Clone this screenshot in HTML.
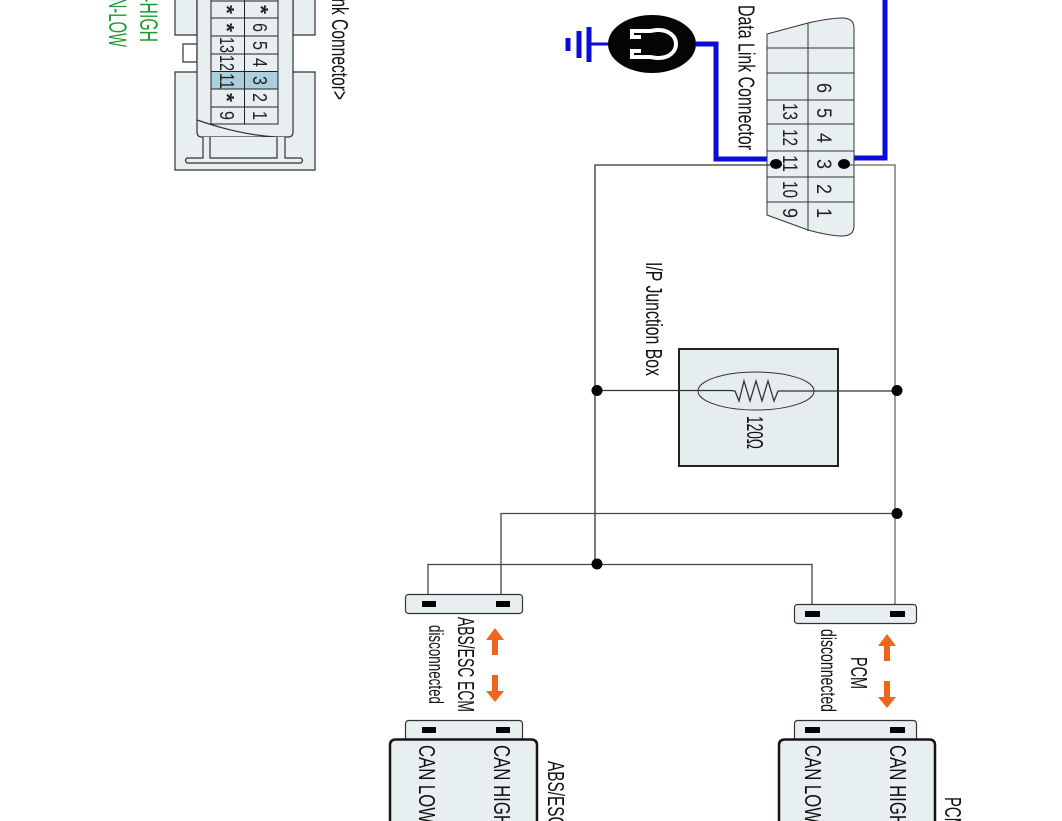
<!DOCTYPE html>
<html><head><meta charset="utf-8"><style>
html,body{margin:0;padding:0;background:#fff;width:1062px;height:821px;overflow:hidden}
svg{display:block}
text{font-family:"Liberation Sans",sans-serif;fill:#111;font-size:23px}
.d{font-size:21px;fill:#222}
.s{font-size:20px;fill:#222}
</style></head><body>
<svg width="1062" height="821" viewBox="0 0 1062 821" xmlns="http://www.w3.org/2000/svg">
<!-- left connector -->
<g stroke="#333" stroke-width="1.2" fill="#e8eff0">
<path d="M175,-2H197V35H175ZM293,-2H315V35H293Z"/>
<path d="M175,72H315V170H175Z"/>
<path d="M197,44H183V62H197Z" fill="#fff"/>
<path d="M197,-2H293V132Q293,137 288,137H202Q197,137 197,132Z"/>
<path d="M197,120Q240,135 277,137" fill="none"/>
<path d="M203,137V158H187Q184,160 187,163H301Q304,160 301,158H285V137M210,137V158H277V137" fill="#e8eff0"/>
</g>
<rect x="211" y="71.5" width="67" height="17.5" fill="#a9d0dc"/>
<g stroke="#222" stroke-width="1" fill="none">
<rect x="211" y="-2" width="67" height="126"/>
<path d="M244.500,-2V124M211,1H278M211,18H278M211,36H278M211,54H278M211,71.500H278M211,89H278M211,107H278"/>
</g>
<text class="s" transform="translate(220,5) rotate(90)" textLength="9" lengthAdjust="spacingAndGlyphs" font-weight="bold">*</text>
<text class="s" transform="translate(254,5) rotate(90)" textLength="9" lengthAdjust="spacingAndGlyphs" font-weight="bold">*</text>
<text class="s" transform="translate(220,23) rotate(90)" textLength="9" lengthAdjust="spacingAndGlyphs" font-weight="bold">*</text>
<text class="s" transform="translate(253,23) rotate(90)" textLength="9" lengthAdjust="spacingAndGlyphs">6</text>
<text class="s" transform="translate(220,37) rotate(90)" textLength="16" lengthAdjust="spacingAndGlyphs">13</text>
<text class="s" transform="translate(253,41) rotate(90)" textLength="9" lengthAdjust="spacingAndGlyphs">5</text>
<text class="s" transform="translate(220,55) rotate(90)" textLength="16" lengthAdjust="spacingAndGlyphs">12</text>
<text class="s" transform="translate(253,58) rotate(90)" textLength="9" lengthAdjust="spacingAndGlyphs">4</text>
<text class="s" transform="translate(220,73) rotate(90)" textLength="16" lengthAdjust="spacingAndGlyphs">11</text>
<text class="s" transform="translate(253,76) rotate(90)" textLength="9" lengthAdjust="spacingAndGlyphs">3</text>
<text class="s" transform="translate(220,93) rotate(90)" textLength="9" lengthAdjust="spacingAndGlyphs" font-weight="bold">*</text>
<text class="s" transform="translate(253,93) rotate(90)" textLength="9" lengthAdjust="spacingAndGlyphs">2</text>
<text class="s" transform="translate(220,111) rotate(90)" textLength="9" lengthAdjust="spacingAndGlyphs">9</text>
<text class="s" transform="translate(253,111) rotate(90)" textLength="9" lengthAdjust="spacingAndGlyphs">1</text>
<text transform="translate(332,100) rotate(90)" text-anchor="end" textLength="160" lengthAdjust="spacingAndGlyphs">&lt;Data Link Connector&gt;</text>
<text transform="translate(140,42) rotate(90)" text-anchor="end" textLength="78" lengthAdjust="spacingAndGlyphs" style="fill:#1f9a30;font-size:25px">CAN-HIGH</text>
<text transform="translate(109,47) rotate(90)" text-anchor="end" textLength="70" lengthAdjust="spacingAndGlyphs" style="fill:#1f9a30;font-size:25px">CAN-LOW</text>

<!-- ground + meter -->
<g stroke="#0b0bdc" fill="none">
<path d="M589,44H610" stroke-width="3"/>
<path d="M589,27V62" stroke-width="5"/>
<path d="M579,31V58" stroke-width="5"/>
<path d="M568,38V51" stroke-width="5"/>
<path d="M696,44H716V159H776" stroke-width="5"/>
<path d="M885,-2V158H838" stroke-width="5"/>
</g>
<ellipse cx="652" cy="44" rx="44" ry="29" fill="#050505"/>
<path d="M641,37H632V31H650C652,31 654,30 658,30C670,30 676,37 676,44C676,51 670,58 658,58C654,58 652,57 650,57H632V51H641" fill="none" stroke="#fff" stroke-width="4"/>

<!-- data link connector -->
<path d="M767,34L808,23Q830,18 842,18Q854,18 854,28V226Q854,236 842,236Q830,236 808,230L767,215Z" fill="#e8eff0" stroke="#333" stroke-width="1"/>
<path d="M808,23V231M767,48H854M767,73H854M767,100H854M767,124H854M767,151H854M767,177H854M767,202H854" stroke="#333" stroke-width="1" fill="none"/>
<text transform="translate(738.500,5) rotate(90)" textLength="145" lengthAdjust="spacingAndGlyphs">Data Link Connector</text>
<text class="d" transform="translate(817,83) rotate(90)" textLength="10" lengthAdjust="spacingAndGlyphs">6</text>
<text class="d" transform="translate(817,108) rotate(90)" textLength="10" lengthAdjust="spacingAndGlyphs">5</text>
<text class="d" transform="translate(817,133) rotate(90)" textLength="10" lengthAdjust="spacingAndGlyphs">4</text>
<text class="d" transform="translate(817,159) rotate(90)" textLength="10" lengthAdjust="spacingAndGlyphs">3</text>
<text class="d" transform="translate(817,184) rotate(90)" textLength="10" lengthAdjust="spacingAndGlyphs">2</text>
<text class="d" transform="translate(817,208) rotate(90)" textLength="10" lengthAdjust="spacingAndGlyphs">1</text>
<text class="d" transform="translate(783,103) rotate(90)" textLength="17" lengthAdjust="spacingAndGlyphs">13</text>
<text class="d" transform="translate(783,129) rotate(90)" textLength="17" lengthAdjust="spacingAndGlyphs">12</text>
<text class="d" transform="translate(783,155) rotate(90)" textLength="17" lengthAdjust="spacingAndGlyphs">11</text>
<text class="d" transform="translate(783,181) rotate(90)" textLength="17" lengthAdjust="spacingAndGlyphs">10</text>
<text class="d" transform="translate(783,208) rotate(90)" textLength="10" lengthAdjust="spacingAndGlyphs">9</text>

<!-- resistor box -->
<rect x="679" y="349" width="159" height="117" fill="#e5edef" stroke="#222" stroke-width="2"/>
<ellipse cx="756" cy="391" rx="58" ry="19" fill="none" stroke="#333" stroke-width="1"/>

<!-- wires -->
<g fill="none" stroke-width="1.300">
<path d="M776,165H595V564" stroke="#333"/>
<path d="M844,165H895V612" stroke="#666"/>
<path d="M597,390.500H730L735,391L739,401L744,381L750,401L756,381L762,401L768,381L774,401L778,391H897" stroke="#333"/>
<path d="M897,513.500H501V602" stroke="#444"/>
<path d="M812,612V564.500H428V602" stroke="#444"/>
</g>
<g fill="#050505">
<ellipse cx="776" cy="164" rx="6" ry="5"/>
<ellipse cx="844" cy="164" rx="6" ry="5"/>
<circle cx="597" cy="390.500" r="5.500"/>
<circle cx="897" cy="390.500" r="5.500"/>
<circle cx="897" cy="513.500" r="5.500"/>
<circle cx="597" cy="564" r="5.500"/>
</g>
<text transform="translate(747,416) rotate(90)" textLength="33" lengthAdjust="spacingAndGlyphs">120Ω</text>
<text transform="translate(646,262) rotate(90)" textLength="114" lengthAdjust="spacingAndGlyphs">I/P Junction Box</text>

<!-- connectors upper -->
<g fill="#e8eff0" stroke="#333" stroke-width="1.200">
<rect x="405.500" y="594.500" width="117" height="19" rx="3"/>
<rect x="794.500" y="604.500" width="122" height="19" rx="3"/>
<path d="M405.500,742V724Q405.500,720.500 409,720.500H519Q522.500,720.500 522.500,724V742Z"/>
<path d="M794.500,742V724Q794.500,720.500 798,720.500H913Q916.500,720.500 916.500,724V742Z"/>
</g>
<g fill="#050505">
<rect x="422" y="601" width="14" height="6"/><rect x="496" y="601" width="14" height="6"/>
<rect x="805" y="611" width="15" height="6"/><rect x="890" y="611" width="15" height="6"/>
<rect x="422" y="727" width="14" height="6"/><rect x="496" y="727" width="14" height="6"/>
<rect x="805" y="727" width="15" height="6"/><rect x="890" y="727" width="15" height="6"/>
</g>
<!-- modules -->
<g fill="#e8eff0" stroke="#151515" stroke-width="2.500">
<path d="M390,823V745Q390,739.500 396,739.500H531Q537,739.500 537,745V823Z"/>
<path d="M779,823V745Q779,739.500 785,739.500H929Q935,739.500 935,745V823Z"/>
</g>
<!-- arrows -->
<g fill="#f0641e">
<path d="M495,628L504,640H498V655H492V640H486Z"/>
<path d="M495,702L504,691H498V675H492V691H486Z"/>
<path d="M887,634L896,646H890V661H884V646H878Z"/>
<path d="M887,708L896,697H890V681H884V697H878Z"/>
</g>
<!-- labels -->
<text transform="translate(458,617) rotate(90)" textLength="95" lengthAdjust="spacingAndGlyphs">ABS/ESC ECM</text>
<text transform="translate(429,625) rotate(90)" textLength="79" lengthAdjust="spacingAndGlyphs" style="font-size:20px">disconnected</text>
<text transform="translate(851,657) rotate(90)" textLength="32" lengthAdjust="spacingAndGlyphs">PCM</text>
<text transform="translate(821,629) rotate(90)" textLength="83" lengthAdjust="spacingAndGlyphs" style="font-size:21px">disconnected</text>
<text transform="translate(419,745) rotate(90)" textLength="78" lengthAdjust="spacingAndGlyphs">CAN LOW</text>
<text transform="translate(494,745) rotate(90)" textLength="82" lengthAdjust="spacingAndGlyphs">CAN HIGH</text>
<text transform="translate(805,745) rotate(90)" textLength="78" lengthAdjust="spacingAndGlyphs">CAN LOW</text>
<text transform="translate(890,745) rotate(90)" textLength="82" lengthAdjust="spacingAndGlyphs">CAN HIGH</text>
<text transform="translate(548,761) rotate(90)" textLength="105" lengthAdjust="spacingAndGlyphs">ABS/ESC ECM</text>
<text transform="translate(945,797) rotate(90)" textLength="33" lengthAdjust="spacingAndGlyphs">PCM</text>
</svg>
</body></html>
